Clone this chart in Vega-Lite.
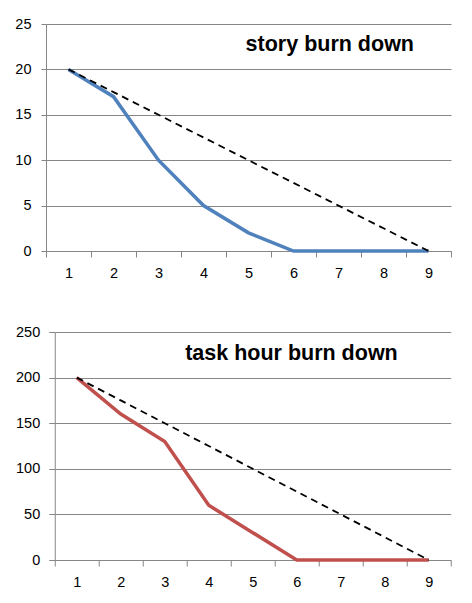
{
  "$schema": "https://vega.github.io/schema/vega-lite/v6.json",
  "padding": {"left": 14, "top": 16, "right": 5, "bottom": 5},
  "background": "white",
  "spacing": 43,
  "align": "all",
  "center": true,
  "config": {
    "view": {"stroke": null},
    "font": "Liberation Sans",
    "axis": {
      "labelFont": "Liberation Sans",
      "labelFontSize": 14.5,
      "labelColor": "#000000",
      "domainColor": "#868686",
      "tickColor": "#868686",
      "gridColor": "#868686",
      "gridWidth": 1,
      "domainWidth": 1,
      "tickWidth": 1,
      "title": null
    }
  },
  "datasets": {
    "story": [
      {"day": 1, "actual": 20, "ideal": 20},
      {"day": 2, "actual": 17, "ideal": 17.5},
      {"day": 3, "actual": 10, "ideal": 15},
      {"day": 4, "actual": 5, "ideal": 12.5},
      {"day": 5, "actual": 2, "ideal": 10},
      {"day": 6, "actual": 0, "ideal": 7.5},
      {"day": 7, "actual": 0, "ideal": 5},
      {"day": 8, "actual": 0, "ideal": 2.5},
      {"day": 9, "actual": 0, "ideal": 0}
    ],
    "task": [
      {"day": 1, "actual": 200, "ideal": 200},
      {"day": 2, "actual": 160, "ideal": 175},
      {"day": 3, "actual": 130, "ideal": 150},
      {"day": 4, "actual": 60, "ideal": 125},
      {"day": 5, "actual": 30, "ideal": 100},
      {"day": 6, "actual": 0, "ideal": 75},
      {"day": 7, "actual": 0, "ideal": 50},
      {"day": 8, "actual": 0, "ideal": 25},
      {"day": 9, "actual": 0, "ideal": 0}
    ]
  },
  "vconcat": [
    {
      "width": 405,
      "height": 227,
      "data": {"name": "story"},
      "title": {"text": "story burn down", "anchor": "end", "fontSize": 21.5, "fontWeight": "bold", "font": "Liberation Sans", "color": "#000000", "dx": -37, "offset": -50.5, "baseline": "middle", "frame": "group"},
      "encoding": {
        "x": {"field": "day", "type": "ordinal", "bandPosition": 0.5,
              "scale": {"type": "band", "paddingInner": 0, "paddingOuter": 0},
              "axis": {"tickBand": "extent", "labelAngle": 0, "tickSize": 6, "labelPadding": 9, "grid": false}}
      },
      "resolve": {"axis": {"y": "independent"}},
      "layer": [
        {"mark": {"type": "line", "color": "#4F81BD", "strokeWidth": 3.5},
         "encoding": {"y": {"field": "actual", "type": "quantitative", "scale": {"domain": [0, 25], "nice": false},
              "axis": {"values": [0, 5, 10, 15, 20, 25], "grid": true, "tickSize": 5, "labelPadding": 10, "minExtent": 31, "maxExtent": 31}}}},
        {"mark": {"type": "line", "color": "#000000", "strokeWidth": 1.8, "strokeDash": [7, 5]},
         "encoding": {"y": {"field": "ideal", "type": "quantitative",
              "axis": {"orient": "right", "labels": false, "ticks": false, "domain": false, "grid": false, "minExtent": 9, "maxExtent": 9}}}}
      ]
    },
    {
      "width": 396,
      "height": 228,
      "data": {"name": "task"},
      "title": {"text": "task hour burn down", "anchor": "end", "fontSize": 21.5, "fontWeight": "bold", "font": "Liberation Sans", "color": "#000000", "dx": -53, "offset": -51, "baseline": "middle", "frame": "group"},
      "encoding": {
        "x": {"field": "day", "type": "ordinal", "bandPosition": 0.5,
              "scale": {"type": "band", "paddingInner": 0, "paddingOuter": 0},
              "axis": {"tickBand": "extent", "labelAngle": 0, "tickSize": 6, "labelPadding": 9, "grid": false}},
        "y": {"type": "quantitative", "scale": {"domain": [0, 250], "nice": false},
              "axis": {"values": [0, 50, 100, 150, 200, 250], "grid": true, "tickSize": 6, "labelPadding": 9, "minExtent": 40, "maxExtent": 40}}
      },
      "layer": [
        {"mark": {"type": "line", "color": "#C0504D", "strokeWidth": 3.5}, "encoding": {"y": {"field": "actual", "type": "quantitative"}}},
        {"mark": {"type": "line", "color": "#000000", "strokeWidth": 1.8, "strokeDash": [7, 5]}, "encoding": {"y": {"field": "ideal", "type": "quantitative"}}}
      ]
    }
  ]
}
